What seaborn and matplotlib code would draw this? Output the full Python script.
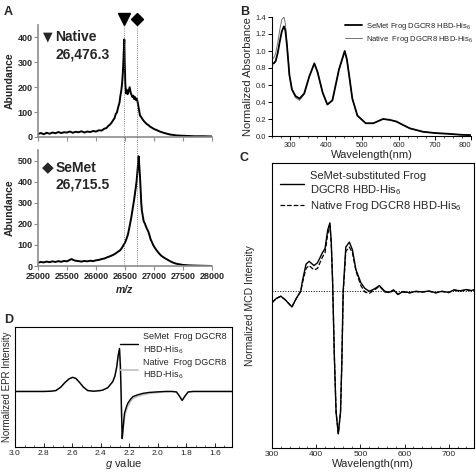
import numpy as np
import pandas as pd
import matplotlib
matplotlib.use("Agg")
import matplotlib.pyplot as plt
from matplotlib.ticker import MultipleLocator, AutoMinorLocator, NullFormatter
import seaborn as sns

sns.set_theme(style="white")
plt.rcParams['font.family'] = ['Liberation Sans', 'DejaVu Sans']
plt.rcParams['mathtext.fontset'] = 'custom'
plt.rcParams['mathtext.rm'] = 'Liberation Sans'
plt.rcParams['mathtext.it'] = 'Liberation Sans:italic'

# ---- Panel A: mass spectra (m/z, abundance) ----
native_mz = [25000, 25050, 25100, 25150, 25200, 25250, 25300, 25350, 25400, 25450,
             25500, 25550, 25600, 25650, 25700, 25750, 25800, 25850, 25900, 25950,
             26000, 26050, 26100, 26140, 26180, 26210, 26240, 26270, 26300, 26320,
             26340, 26360, 26385, 26405, 26420, 26435, 26450, 26462, 26471, 26480,
             26488, 26495, 26505, 26517, 26530, 26545, 26560, 26580, 26598, 26615,
             26630, 26643, 26660, 26675, 26690, 26705, 26718, 26735, 26759, 26780,
             26800, 26825, 26850, 26875, 26902, 26930, 26960, 27000, 27046, 27100,
             27150, 27210, 27276, 27340, 27400, 27500, 27600, 27700, 27850, 28000]
native_ab = [12, 16, 11, 17, 13, 18, 15, 20, 16, 19,
             18, 22, 17, 21, 19, 23, 18, 22, 20, 24,
             22, 27, 26, 33, 36, 44, 50, 58, 69, 76,
             92, 98, 122, 138, 165, 185, 215, 255, 300, 350,
             392, 300, 215, 175, 190, 172, 182, 200, 178, 168,
             160, 166, 152, 160, 148, 154, 140, 118, 86, 80,
             72, 64, 58, 52, 48, 42, 38, 32, 28, 22,
             18, 14, 10, 8, 6, 5, 4, 3, 3, 2]

semet_mz = [25000, 25050, 25100, 25150, 25200, 25250, 25300, 25350, 25400, 25450,
            25500, 25540, 25580, 25620, 25650, 25700, 25750, 25800, 25850, 25900,
            25950, 26000, 26050, 26100, 26150, 26200, 26241, 26290, 26330, 26370,
            26414, 26445, 26470, 26495, 26517, 26540, 26555, 26570, 26586, 26605,
            26620, 26640, 26655, 26670, 26685, 26701, 26718, 26735, 26748, 26759,
            26770, 26780, 26790, 26805, 26820, 26835, 26845, 26860, 26875, 26890,
            26902, 26920, 26940, 26960, 26985, 27010, 27046, 27080, 27120, 27170,
            27219, 27270, 27320, 27370, 27419, 27500, 27600, 27700, 27850, 28000]
semet_ab = [16, 19, 17, 21, 18, 22, 19, 23, 20, 24,
            22, 28, 33, 27, 25, 23, 21, 24, 22, 25,
            23, 27, 29, 33, 36, 42, 46, 52, 58, 66,
            74, 85, 97, 108, 122, 140, 155, 175, 198, 225,
            250, 285, 310, 340, 370, 405, 460, 520, 470, 420,
            360, 300, 265, 240, 215, 205, 200, 188, 178, 170,
            163, 148, 128, 116, 100, 88, 74, 62, 50, 40,
            32, 24, 17, 12, 9, 5, 3, 2, 1, 0]

native_mass = 26476.3
semet_mass = 26715.5

# ---- Panel B: UV-vis absorbance ----
uv_nm = [250, 255, 260, 266, 271, 277, 283, 287, 291, 295, 298, 305, 315, 326, 339,
         353, 367, 376, 390, 403, 417, 435, 451, 457, 463, 472, 486, 509, 530,
         557, 575, 594, 612, 631, 667, 700, 740, 770, 800]
uv_semet = [0.85, 0.855, 0.88, 0.98, 1.10, 1.23, 1.29, 1.24, 1.08, 0.88, 0.72, 0.55, 0.47, 0.44, 0.50,
            0.70, 0.855, 0.75, 0.51, 0.37, 0.42, 0.78, 1.00, 0.90, 0.72, 0.44, 0.24, 0.15, 0.15,
            0.20, 0.19, 0.17, 0.13, 0.09, 0.05, 0.035, 0.025, 0.015, 0.01]
uv_native = [0.90, 0.92, 0.97, 1.10, 1.24, 1.37, 1.40, 1.32, 1.11, 0.89, 0.72, 0.54, 0.45, 0.42, 0.49,
             0.70, 0.85, 0.75, 0.51, 0.37, 0.42, 0.78, 1.00, 0.90, 0.72, 0.44, 0.24, 0.15, 0.15,
             0.20, 0.19, 0.17, 0.13, 0.09, 0.05, 0.035, 0.025, 0.015, 0.01]

# ---- Panel C: MCD ----
mcd_nm = [300, 310, 320, 330, 345, 355, 365, 369, 377, 384, 395, 403, 414, 420, 426,
          431, 434, 437, 441, 445, 450, 455, 458, 461, 467, 475, 482, 490, 501, 510, 520, 532,
          543, 555, 566, 575, 585, 596, 611, 626, 640, 655, 670, 685, 700, 712, 725,
          740, 750, 757]
mcd_semet = [-0.08, -0.05, -0.035, -0.06, -0.11, -0.05, 0.0, 0.075, 0.19, 0.21, 0.18, 0.20, 0.27, 0.30, 0.43,
             0.48, 0.35, 0.08, -0.45, -0.85, -1.0, -0.85, -0.5, 0.0, 0.31, 0.345, 0.29, 0.15, 0.06, 0.02, 0.0, 0.017,
             0.04, 0.0, -0.007, 0.01, -0.023, -0.002, -0.01, 0.0, -0.005, 0.002, -0.01, 0.0, -0.008, 0.01, 0.003,
             0.012, 0.005, 0.01]
mcd_native = [-0.08, -0.05, -0.035, -0.06, -0.11, -0.05, 0.0, 0.06, 0.16, 0.18, 0.15, 0.16, 0.24, 0.27, 0.40,
              0.46, 0.34, 0.08, -0.45, -0.85, -1.0, -0.85, -0.5, -0.02, 0.28, 0.31, 0.27, 0.14, 0.04, -0.005, -0.015, 0.01,
              0.035, -0.005, -0.01, 0.005, -0.02, -0.005, -0.012, -0.003, -0.006, 0.0, -0.012, -0.002, -0.01, 0.008, 0.0,
              0.01, 0.004, 0.008]

# ---- Panel D: EPR ----
epr_g = [3.00, 2.90, 2.80, 2.75, 2.713, 2.68, 2.65, 2.62, 2.597, 2.575, 2.55, 2.52, 2.491, 2.45,
         2.40, 2.385, 2.35, 2.315, 2.30, 2.287, 2.278, 2.268, 2.262, 2.257, 2.253, 2.249, 2.242,
         2.233, 2.22, 2.21, 2.19, 2.174, 2.14, 2.104, 2.06, 2.01, 1.95, 1.90, 1.869, 1.85, 1.829,
         1.81, 1.787, 1.75, 1.65, 1.55, 1.48]
epr_semet = [0.0, 0.0, 0.0, 0.005, 0.02, 0.09, 0.19, 0.27, 0.30, 0.28, 0.20, 0.09, 0.02, 0.005,
             0.02, 0.03, 0.08, 0.21, 0.33, 0.53, 0.75, 0.915, 0.55, 0.0, -0.55, -1.0, -0.75,
             -0.46, -0.33, -0.25, -0.16, -0.11, -0.07, -0.04, -0.02, -0.01, 0.0, 0.0, -0.01, -0.09, -0.19,
             -0.10, -0.01, 0.0, 0.0, 0.0, 0.0]
epr_native = [0.0, 0.0, 0.0, 0.005, 0.02, 0.09, 0.19, 0.27, 0.30, 0.28, 0.20, 0.09, 0.02, 0.005,
              0.02, 0.03, 0.08, 0.21, 0.33, 0.53, 0.75, 0.90, 0.55, 0.0, -0.55, -1.0, -0.80,
              -0.55, -0.40, -0.31, -0.21, -0.15, -0.10, -0.07, -0.04, -0.025, -0.005, 0.0, -0.01, -0.09, -0.19,
              -0.10, -0.01, 0.0, 0.0, 0.0, 0.0]

W, H = 476, 473
fig = plt.figure(figsize=(W / 100, H / 100), dpi=100)


def px_axes(x0, y0, x1, y1):
    return fig.add_axes([x0 / W, (H - y1) / H, (x1 - x0) / W, (y1 - y0) / H])


spine_gray = '0.55'

# ---------- A ----------
axA1 = px_axes(38, 25, 212, 137)
axA2 = px_axes(38, 150, 212, 266)
sns.lineplot(x=native_mz, y=native_ab, ax=axA1, color='black', lw=1.4)
sns.lineplot(x=semet_mz, y=semet_ab, ax=axA2, color='black', lw=1.4)
for ax, top in [(axA1, 450), (axA2, 550)]:
    ax.set_xlim(25000, 28000)
    ax.set_ylim(0, top)
    ax.xaxis.set_major_locator(MultipleLocator(500))
    for s in ['top', 'right']:
        ax.spines[s].set_visible(False)
    for s in ['left', 'bottom']:
        ax.spines[s].set_color(spine_gray)
        ax.spines[s].set_linewidth(1.2)
    ax.tick_params(direction='out', length=3, width=0.8, color=spine_gray, pad=1,
                   bottom=True, left=True, labelsize=6.5)
    ax.set_ylabel('Abundance', fontsize=7.5, fontweight='bold', labelpad=2)
    ax.set_xlabel('')
axA1.set_yticks([0, 100, 200, 300, 400])
axA2.set_yticks([0, 100, 200, 300, 400, 500])
for ax in [axA1, axA2]:
    for lab in ax.get_yticklabels():
        lab.set_fontweight('bold')
axA1.xaxis.set_major_formatter(NullFormatter())
axA2.set_xticks([25000, 25500, 26000, 26500, 27000, 27500, 28000])
axA2.set_xticklabels(['25000', '25500', '26000', '26500', '27000', '27500', '28000'],
                     fontsize=6.5, fontweight='bold')
axA2.set_xlabel('m/z', fontsize=7.5, fontweight='bold', style='italic', labelpad=3)

for m in [native_mass, semet_mass]:
    axA1.axvline(m, ymin=0, ymax=1.04, color='0.35', lw=0.6, ls=':', clip_on=False)
    axA2.axvline(m, ymin=0, ymax=1.12, color='0.35', lw=0.6, ls=':', clip_on=False)
xt = axA1.get_xaxis_transform()
axA1.plot([native_mass], [1.055], marker='v', ms=8, color='black', transform=xt, clip_on=False)
axA1.plot([semet_mass], [1.055], marker='D', ms=6.5, color='black', transform=xt, clip_on=False)

axA1.text(0.03, 0.89, '\u25BC', transform=axA1.transAxes, fontsize=9, va='center',
          family=['DejaVu Sans'])
axA1.text(0.10, 0.89, 'Native', transform=axA1.transAxes, fontsize=10, fontweight='bold', va='center')
axA1.text(0.10, 0.74, '26,476.3', transform=axA1.transAxes, fontsize=10, fontweight='bold', va='center')
axA2.text(0.02, 0.845, '\u25C6', transform=axA2.transAxes, fontsize=11, va='center',
          family=['DejaVu Sans'])
axA2.text(0.10, 0.845, 'SeMet', transform=axA2.transAxes, fontsize=10, fontweight='bold', va='center')
axA2.text(0.10, 0.70, '26,715.5', transform=axA2.transAxes, fontsize=10, fontweight='bold', va='center')

# ---------- B ----------
axB = px_axes(272, 17, 471, 136)
sns.lineplot(x=uv_nm, y=uv_native, ax=axB, color='0.45', lw=0.7, label='Native  Frog DGCR8 HBD-His$_6$')
sns.lineplot(x=uv_nm, y=uv_semet, ax=axB, color='black', lw=1.3, label='SeMet Frog DGCR8 HBD-His$_6$')
axB.set_xlim(250, 800)
axB.set_ylim(0, 1.4)
axB.xaxis.set_major_locator(MultipleLocator(100))
axB.xaxis.set_minor_locator(AutoMinorLocator(4))
axB.yaxis.set_major_locator(MultipleLocator(0.2))
axB.yaxis.set_major_formatter(plt.FuncFormatter(lambda v, p: f'{v:.1f}'))
for s in ['top', 'right']:
    axB.spines[s].set_visible(False)
for s in ['left', 'bottom']:
    axB.spines[s].set_color('black')
    axB.spines[s].set_linewidth(0.8)
axB.tick_params(which='both', direction='out', bottom=True, left=True, color='black', labelsize=5.5, pad=1)
axB.tick_params(which='major', length=3, width=0.7)
axB.tick_params(which='minor', length=1.5, width=0.5)
axB.set_xticks([300, 400, 500, 600, 700, 800])
axB.set_xticklabels(['300', '400', '500', '600', '700', '800'])
axB.get_xticklabels()[-1].set_horizontalalignment('right')
axB.set_xlabel('Wavelength(nm)', fontsize=8, labelpad=1)
axB.set_ylabel('Normalized Absorbance', fontsize=8, labelpad=2)
h, l = axB.get_legend_handles_labels()
axB.legend(h[::-1], l[::-1], loc='upper right', fontsize=5.5, frameon=False, handlelength=2.2,
           borderaxespad=0.1, labelspacing=0.3, handletextpad=0.6, bbox_to_anchor=(1.03, 1.0))

# ---------- C ----------
axC = px_axes(272, 163, 474, 448)
axC.axhline(0, color='black', lw=0.7, ls=':')
sns.lineplot(x=mcd_nm, y=mcd_semet, ax=axC, color='black', lw=1.0,
             label='SeMet-substituted Frog\nDGCR8 HBD-His$_6$')
sns.lineplot(x=mcd_nm, y=mcd_native, ax=axC, color='black', lw=0.9, ls='--', dashes=(4, 1.5),
             label='Native Frog DGCR8 HBD-His$_6$')
axC.set_xlim(300, 757)
axC.set_ylim(-1.1, 0.9)
axC.set_yticks([])
axC.xaxis.set_major_locator(MultipleLocator(100))
axC.xaxis.set_minor_locator(AutoMinorLocator(5))
for s in axC.spines.values():
    s.set_color('black')
    s.set_linewidth(0.8)
axC.tick_params(which='both', direction='in', bottom=True, top=False, left=False, labelsize=6, pad=2)
axC.tick_params(which='major', length=3, width=0.7)
axC.tick_params(which='minor', length=1.5, width=0.5)
axC.set_xlabel('Wavelength(nm)', fontsize=8, labelpad=1)
axC.set_ylabel('Normalized MCD Intensity', fontsize=7.5, labelpad=12)
axC.legend(loc='upper left', fontsize=8, frameon=False, handlelength=2.2, borderaxespad=0.3,
           labelspacing=0.2, handletextpad=0.5)

# ---------- D ----------
axD = px_axes(15, 327, 232, 447)
sns.lineplot(x=epr_g, y=epr_native, ax=axD, color='0.75', lw=1.2, label='Native  Frog DGCR8\nHBD-His$_6$',
             sort=False)
sns.lineplot(x=epr_g, y=epr_semet, ax=axD, color='black', lw=1.0, label='SeMet  Frog DGCR8\nHBD-His$_6$',
             sort=False)
axD.set_xlim(3.0, 1.48)
axD.set_ylim(-1.18, 1.37)
axD.set_yticks([])
axD.xaxis.set_major_locator(MultipleLocator(0.2))
axD.xaxis.set_minor_locator(AutoMinorLocator(3))
axD.xaxis.set_major_formatter(plt.FuncFormatter(lambda v, p: f'{v:.1f}'))
for s in axD.spines.values():
    s.set_color('black')
    s.set_linewidth(0.8)
axD.tick_params(which='both', direction='in', bottom=True, left=False, labelsize=6, pad=2)
axD.tick_params(which='major', length=3, width=0.7)
axD.tick_params(which='minor', length=1.5, width=0.5)
axD.set_xlabel('$g$ value', fontsize=8, labelpad=0)
axD.set_ylabel('Normalized EPR Intensity', fontsize=7, labelpad=2)
h, l = axD.get_legend_handles_labels()
axD.legend(h[::-1], l[::-1], loc='upper right', fontsize=6.5, frameon=False, handlelength=2.0,
           borderaxespad=0.2, labelspacing=0.2, handletextpad=0.5)

# panel letters
for lab, x, y in [('A', 4, 12), ('B', 240, 12), ('C', 240, 158), ('D', 4, 320)]:
    fig.text(x / W, 1 - y / H, lab, fontsize=9, fontweight='bold', va='center')

fig.savefig('out.png', dpi=100)
